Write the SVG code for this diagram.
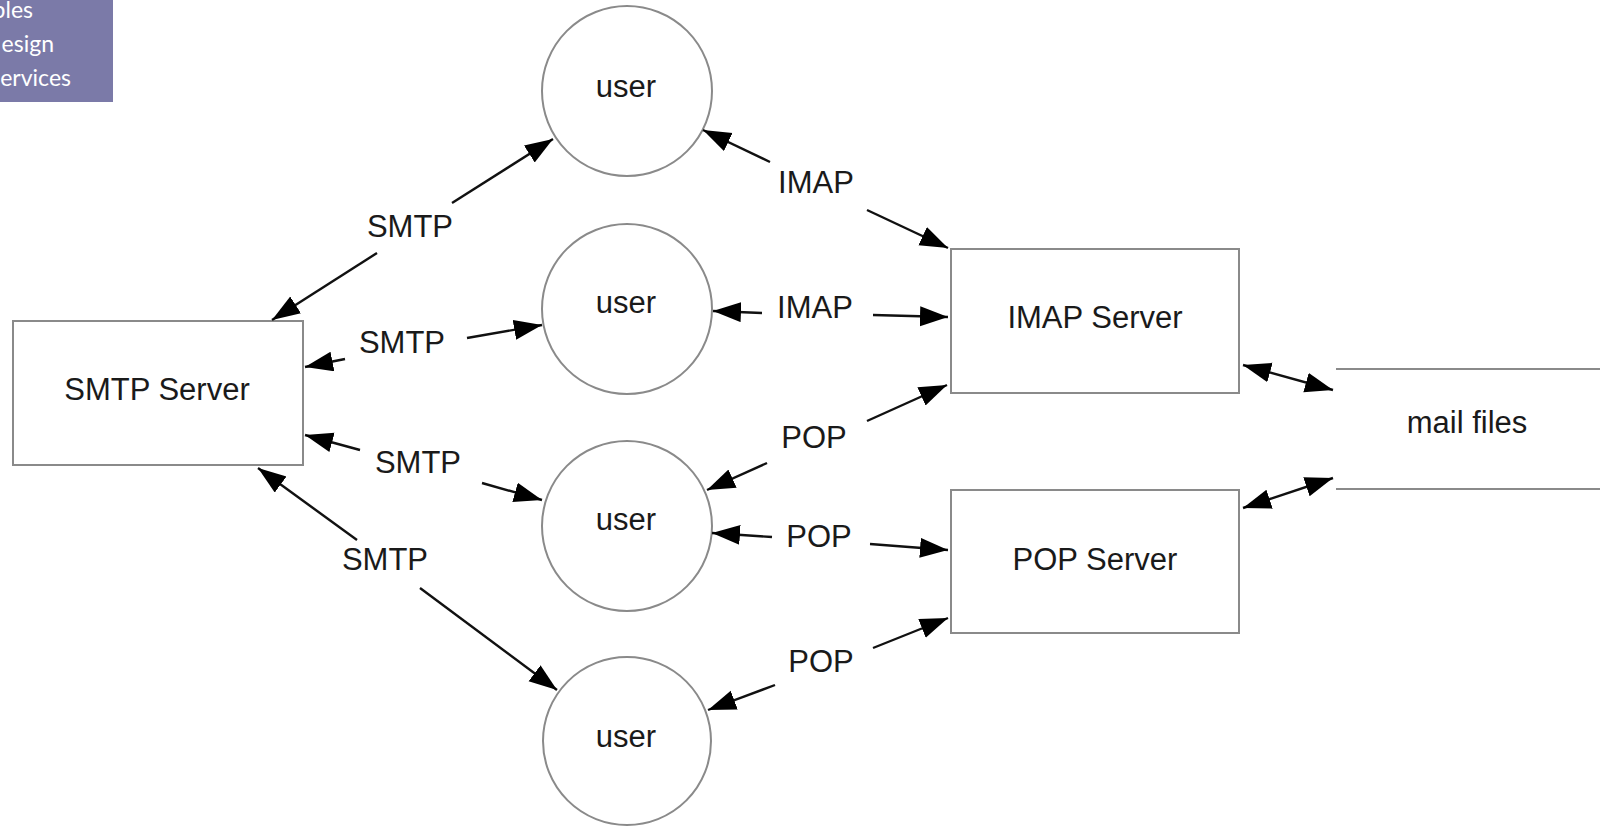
<svg xmlns="http://www.w3.org/2000/svg" width="1607" height="827" viewBox="0 0 1607 827">
<style>
.node{fill:#fff;stroke:#8a8a8a;stroke-width:2}
.lbl{font-family:"Liberation Sans",Arial,sans-serif;font-size:31px;fill:#1a1a1a;text-anchor:middle}
.conn line{stroke:#111;stroke-width:2.4;marker-end:url(#ah)}
.conn line.bi{marker-start:url(#ah)}
.tab{font-family:Lato,"DejaVu Sans",sans-serif;font-size:23px;fill:#fff;text-anchor:end}
</style>
<defs>
<marker id="ah" markerUnits="userSpaceOnUse" markerWidth="30" markerHeight="22" refX="28" refY="10" orient="auto-start-reverse">
<path d="M0,0 L28,10 L0,20 z" fill="#000"/>
</marker>
</defs>
<rect width="1607" height="827" fill="#fff"/>
<g id="tab">
<rect x="0" y="0" width="113" height="102" fill="#7b7aa8"/>
<text class="tab" x="33" y="18">bles</text>
<text class="tab" x="54" y="52">esign</text>
<text class="tab" x="71" y="86">ervices</text>
</g>
<g id="smtp-server"><rect class="node" x="13" y="321" width="290" height="144"/><text class="lbl" x="157" y="400">SMTP Server</text></g>
<g id="imap-server"><rect class="node" x="951" y="249" width="288" height="144"/><text class="lbl" x="1095" y="328">IMAP Server</text></g>
<g id="pop-server"><rect class="node" x="951" y="490" width="288" height="143"/><text class="lbl" x="1095" y="570">POP Server</text></g>
<g id="user1"><circle class="node" cx="627" cy="91" r="85"/><text class="lbl" x="626" y="97">user</text></g>
<g id="user2"><circle class="node" cx="627" cy="309" r="85"/><text class="lbl" x="626" y="313">user</text></g>
<g id="user3"><circle class="node" cx="627" cy="526" r="85"/><text class="lbl" x="626" y="530">user</text></g>
<g id="user4"><circle class="node" cx="627" cy="741" r="84"/><text class="lbl" x="626" y="747">user</text></g>
<g id="mail-files">
<line x1="1336" y1="369" x2="1600" y2="369" stroke="#8a8a8a" stroke-width="2"/>
<line x1="1336" y1="489" x2="1600" y2="489" stroke="#8a8a8a" stroke-width="2"/>
<text class="lbl" x="1467" y="433">mail files</text>
</g>
<g id="connectors" class="conn">
<line x1="452" y1="203" x2="553" y2="139"/>
<line x1="377" y1="253" x2="272" y2="320"/>
<line x1="345" y1="359" x2="305" y2="367"/>
<line x1="467" y1="338" x2="542" y2="325"/>
<line x1="360" y1="450" x2="305" y2="435"/>
<line x1="482" y1="483" x2="542" y2="500"/>
<line x1="357" y1="540" x2="258" y2="468"/>
<line x1="420" y1="588" x2="557" y2="690"/>
<line x1="770" y1="162" x2="703" y2="130"/>
<line x1="867" y1="210" x2="948" y2="248"/>
<line x1="762" y1="313" x2="713" y2="311"/>
<line x1="873" y1="315" x2="948" y2="317"/>
<line x1="767" y1="463" x2="707" y2="490"/>
<line x1="867" y1="421" x2="947" y2="385"/>
<line x1="772" y1="537" x2="712" y2="533"/>
<line x1="870" y1="544" x2="948" y2="550"/>
<line x1="775" y1="685" x2="708" y2="710"/>
<line x1="873" y1="648" x2="948" y2="618"/>
<line class="bi" x1="1243" y1="365" x2="1333" y2="390"/>
<line class="bi" x1="1243" y1="508" x2="1333" y2="478"/>
</g>
<g id="labels">
<text class="lbl" x="410" y="237">SMTP</text>
<text class="lbl" x="402" y="353">SMTP</text>
<text class="lbl" x="418" y="473">SMTP</text>
<text class="lbl" x="385" y="570">SMTP</text>
<text class="lbl" x="816" y="193">IMAP</text>
<text class="lbl" x="815" y="318">IMAP</text>
<text class="lbl" x="814" y="448">POP</text>
<text class="lbl" x="819" y="547">POP</text>
<text class="lbl" x="821" y="672">POP</text>
</g>
</svg>
